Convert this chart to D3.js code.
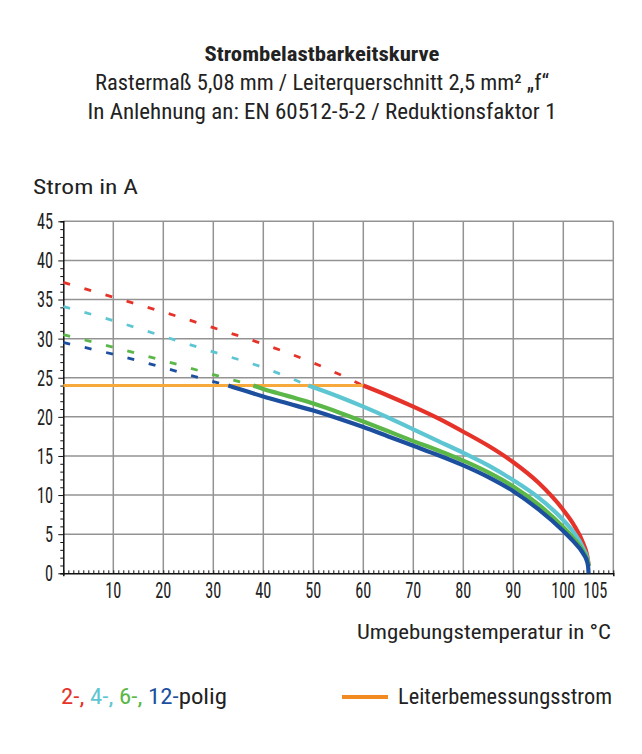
<!DOCTYPE html>
<html><head><meta charset="utf-8">
<script src="https://cdn.jsdelivr.net/npm/d3@7"></script>
<style>body{margin:0;background:#fff}svg{display:block}</style>
</head><body>
<svg id="c" width="642" height="754"></svg>
<script>
// ---- data ----
const titleLines = ["Strombelastbarkeitskurve", "Rastermaß 5,08 mm / Leiterquerschnitt 2,5 mm² „f“", "In Anlehnung an: EN 60512-5-2 / Reduktionsfaktor 1"];
const yTicks = [0,5,10,15,20,25,30,35,40,45];
const xTicks = [10,20,30,40,50,60,70,80,90,100,105];
const xGrid = [10,20,30,40,50,60,70,80,90,100,110];
const ratedCurrent = 24;
const ratedRange = [0, 60];

const redDashT = [0,10,20,30,40,50,60];
const redDashV = [37.2,35.3,33.4,31.4,29.3,26.9,24.0];
const cyanDashT = [0,10,20,30,40,49];
const cyanDashV = [34.1,32.3,30.3,28.3,26.3,24.0];
const greenDashT = [0,10,20,30,38];
const greenDashV = [30.5,28.9,27.2,25.4,24.0];
const blueDashT = [0,10,20,30,33];
const blueDashV = [29.5,28.0,26.3,24.5,24.0];

const redT = [60,65,70,75,80,85,90,95,100,102,104,104.8,105.1];
const redV = [24,22.7,21.3,19.8,18.1,16.3,14.2,11.6,8.1,6.3,3.8,2.2,0.9];
const cyanT = [49,55,60,65,70,75,80,85,90,95,100,102,104,104.8,105.1];
const cyanV = [24,22.6,21.3,19.9,18.4,16.9,15.4,13.8,11.9,9.7,6.8,5.3,3.2,1.9,0.9];
const greenT = [38,40,45,50,55,60,65,70,75,80,85,90,95,100,102,104,104.8,105.1];
const greenV = [24,23.55,22.65,21.7,20.6,19.4,18.15,16.9,15.7,14.4,12.9,11.1,8.8,5.9,4.5,2.8,1.7,0.9];
const blueT = [33,35,40,45,50,55,60,65,70,75,80,85,90,95,100,102,104,104.8,105,105.05];
const blueV = [24,23.6,22.6,21.7,20.8,19.8,18.7,17.5,16.3,15.1,13.8,12.3,10.5,8.2,5.4,4.1,2.5,1.4,0.6,0];

const colors = {red:"#e5332a", cyan:"#5ec6d2", green:"#5bb748", blue:"#1d4f9f", orange:"#f8a93c", orangeLeg:"#f28a22", grid:"#939393", text:"#222"};
const FONT = "'Roboto Condensed','Liberation Sans Narrow',Roboto,sans-serif";

// ---- layout ----
const svg = d3.select("#c");
const x = d3.scaleLinear().domain([0,110]).range([63.3,613.3]);
const y = d3.scaleLinear().domain([0,45]).range([573.3,221.3]);

function condense(sel, f){ sel.each(function(){ const w=this.getComputedTextLength(); this.setAttribute("textLength", w*f); this.setAttribute("lengthAdjust","spacingAndGlyphs"); }); }

// titles
const tl = [{t:titleLines[0], y:61, size:20, w:235, bold:true},{t:titleLines[1], y:90, size:22, w:454},{t:titleLines[2], y:119, size:22, w:469}];
tl.forEach(d=>{
  svg.append("text").attr("x",322).attr("y",d.y).attr("text-anchor","middle")
    .attr("font-family",FONT).attr("font-size",d.size).attr("font-weight",d.bold?"bold":"normal")
    .attr("fill",colors.text).attr("textLength",d.w).attr("lengthAdjust","spacingAndGlyphs").text(d.t);
});

// grid
const g = svg.append("g");
g.selectAll(".hg").data(yTicks.filter(v=>v>0)).join("line")
  .attr("x1",x(0)).attr("x2",x(110)).attr("y1",d=>y(d)).attr("y2",d=>y(d))
  .attr("stroke",colors.grid).attr("stroke-width",1.5);
g.selectAll(".vg").data(xGrid).join("line")
  .attr("x1",d=>x(d)).attr("x2",d=>x(d)).attr("y1",y(0)).attr("y2",y(45))
  .attr("stroke",colors.grid).attr("stroke-width",1.5);

// axes
const yAxis = d3.axisLeft(y).tickValues(d3.range(0,46,1)).tickSize(3).tickFormat("");
const ya = svg.append("g").attr("transform",`translate(${x(0)},0)`).call(yAxis);
ya.select(".domain").attr("stroke","#111").attr("stroke-width",1.5);
ya.selectAll(".tick line").attr("stroke","#111").attr("stroke-width",1)
  .attr("x2",d=>d%5===0?-5:-3);
const xAxis = d3.axisBottom(x).tickValues(d3.range(0,111,1)).tickSize(3).tickFormat("");
const xa = svg.append("g").attr("transform",`translate(0,${y(0)})`).call(xAxis);
xa.select(".domain").attr("stroke","#111").attr("stroke-width",1.5);
xa.selectAll(".tick line").attr("stroke","#111").attr("stroke-width",1).attr("y2",-3);

// tick labels
const yl = svg.selectAll(".yl").data(yTicks).join("text")
  .attr("x",53).attr("y",d=>y(d)).attr("dy","0.36em").attr("text-anchor","end")
  .attr("font-family",FONT).attr("font-size",22).attr("fill",colors.text).text(d=>d);
condense(yl,0.74);
const xl = svg.selectAll(".xl").data(xTicks).join("text")
  .attr("x",d=>x(d)+(d===105?7:0)).attr("y",598).attr("text-anchor","middle")
  .attr("font-family",FONT).attr("font-size",22).attr("fill",colors.text).text(d=>d);
condense(xl,0.74);

// axis titles
svg.append("text").attr("x",33).attr("y",194).attr("font-family",FONT).attr("font-size",21)
  .attr("fill",colors.text).attr("textLength",105).attr("lengthAdjust","spacingAndGlyphs").text("Strom in A");
svg.append("text").attr("x",357).attr("y",639).attr("font-family",FONT).attr("font-size",21)
  .attr("fill",colors.text).attr("textLength",254).attr("lengthAdjust","spacingAndGlyphs").text("Umgebungstemperatur in °C");

// lines
const line = d3.line().x(d=>x(d[0])).y(d=>y(d[1])).curve(d3.curveMonotoneX);
const zip = (a,b)=>a.map((t,i)=>[t,b[i]]);
const dashed = [[redDashT,redDashV,colors.red],[cyanDashT,cyanDashV,colors.cyan],[greenDashT,greenDashV,colors.green],[blueDashT,blueDashV,colors.blue]];
dashed.forEach(([t,v,c])=>{
  svg.append("path").attr("d",line(zip(t,v))).attr("fill","none").attr("stroke",c)
    .attr("stroke-width",2.8).attr("stroke-dasharray","7,15");
});
svg.append("line").attr("x1",x(ratedRange[0])).attr("x2",x(ratedRange[1]))
  .attr("y1",y(ratedCurrent)).attr("y2",y(ratedCurrent)).attr("stroke",colors.orange).attr("stroke-width",3);
const solid = [[redT,redV,colors.red],[cyanT,cyanV,colors.cyan],[greenT,greenV,colors.green],[blueT,blueV,colors.blue]];
solid.forEach(([t,v,c])=>{
  svg.append("path").attr("d",line(zip(t,v))).attr("fill","none").attr("stroke",c)
    .attr("stroke-width",4.2).attr("stroke-linejoin","round");
});

// legend
const lg = svg.append("text").attr("x",61).attr("y",704).attr("font-family",FONT).attr("font-size",22)
  .attr("textLength",166).attr("lengthAdjust","spacingAndGlyphs");
[["2-, ",colors.red],["4-, ",colors.cyan],["6-, ",colors.green],["12-",colors.blue],["polig",colors.text]]
  .forEach(([t,c])=>lg.append("tspan").attr("fill",c).text(t));
svg.append("line").attr("x1",342).attr("x2",388).attr("y1",697).attr("y2",697)
  .attr("stroke",colors.orangeLeg).attr("stroke-width",4);
svg.append("text").attr("x",398).attr("y",704).attr("font-family",FONT).attr("font-size",22)
  .attr("fill",colors.text).attr("textLength",214).attr("lengthAdjust","spacingAndGlyphs").text("Leiterbemessungsstrom");
</script>
</body></html>
